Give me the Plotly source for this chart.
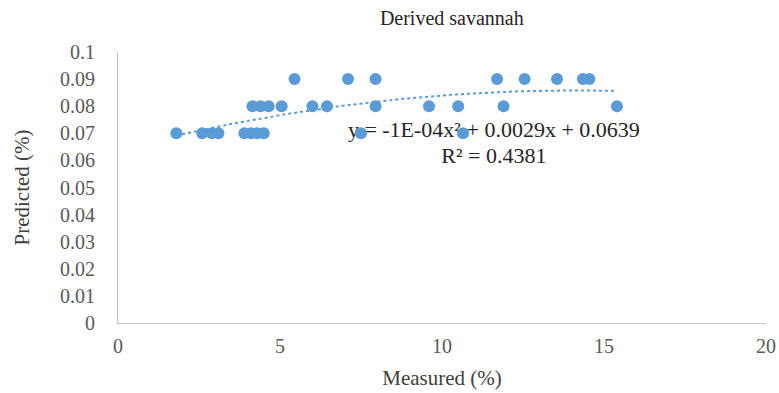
import numpy as np
import plotly.graph_objects as go

# Measured vs predicted values (%)
measured = [1.8, 2.6, 2.9, 3.1, 3.9, 4.1, 4.3, 4.5, 7.5, 10.65,
            4.15, 4.4, 4.65, 5.05, 6.0, 6.45, 7.95, 9.6, 10.5, 11.9, 15.4,
            5.45, 7.1, 7.95, 11.7, 12.55, 13.55, 14.35, 14.55]
predicted = [0.07] * 10 + [0.08] * 11 + [0.09] * 8

equation_text = "y = -1E-04x² + 0.0029x + 0.0639"
r2_text = "R² = 0.4381"

blue = "#5B9BD5"
serif = "Liberation Serif, Times New Roman, serif"

# Second-order polynomial trendline fitted to the data
coef = np.polyfit(measured, predicted, 2)
xs = np.linspace(min(measured), max(measured), 100)
ys = np.polyval(coef, xs)

fig = go.Figure()

# Equation labels drawn first so the markers sit on top of them
fig.add_trace(go.Scatter(
    x=[11.6, 11.6], y=[0.0705, 0.0612],
    mode="text", text=[equation_text, r2_text],
    textfont=dict(family=serif, size=22, color="#262626"),
    textposition="middle center", hoverinfo="skip", showlegend=False))

fig.add_trace(go.Scatter(
    x=xs, y=ys, mode="lines",
    line=dict(color=blue, width=2, dash="dot"),
    hoverinfo="skip", showlegend=False))

fig.add_trace(go.Scatter(
    x=measured, y=predicted, mode="markers",
    marker=dict(color=blue, size=12, line=dict(width=0)),
    showlegend=False))

fig.update_layout(
    width=779, height=393,
    margin=dict(l=118, r=13, t=52, b=70),
    paper_bgcolor="white", plot_bgcolor="white",
    title=dict(text="Derived savannah", x=0.58, xanchor="center",
               y=0.955, yanchor="middle",
               font=dict(family=serif, size=20, color="#262626")),
    font=dict(family=serif, color="#595959", size=20),
    xaxis=dict(range=[0, 20], dtick=5, showgrid=False, zeroline=False,
               showline=True, linecolor="#BFBFBF", linewidth=1,
               ticks="", ticklabelstandoff=5, automargin=False,
               tickfont=dict(family=serif, size=20, color="#595959"),
               title=dict(text="Measured (%)", standoff=14,
                          font=dict(family=serif, size=21, color="#404040"))),
    yaxis=dict(range=[0, 0.1], dtick=0.01, showgrid=False, zeroline=False,
               showline=True, linecolor="#BFBFBF", linewidth=1,
               ticks="", ticklabelstandoff=18, automargin=False,
               tickfont=dict(family=serif, size=20, color="#595959"),
               title=dict(text="Predicted (%)", standoff=24,
                          font=dict(family=serif, size=21, color="#404040"))),
)

fig.write_html("out.html")
